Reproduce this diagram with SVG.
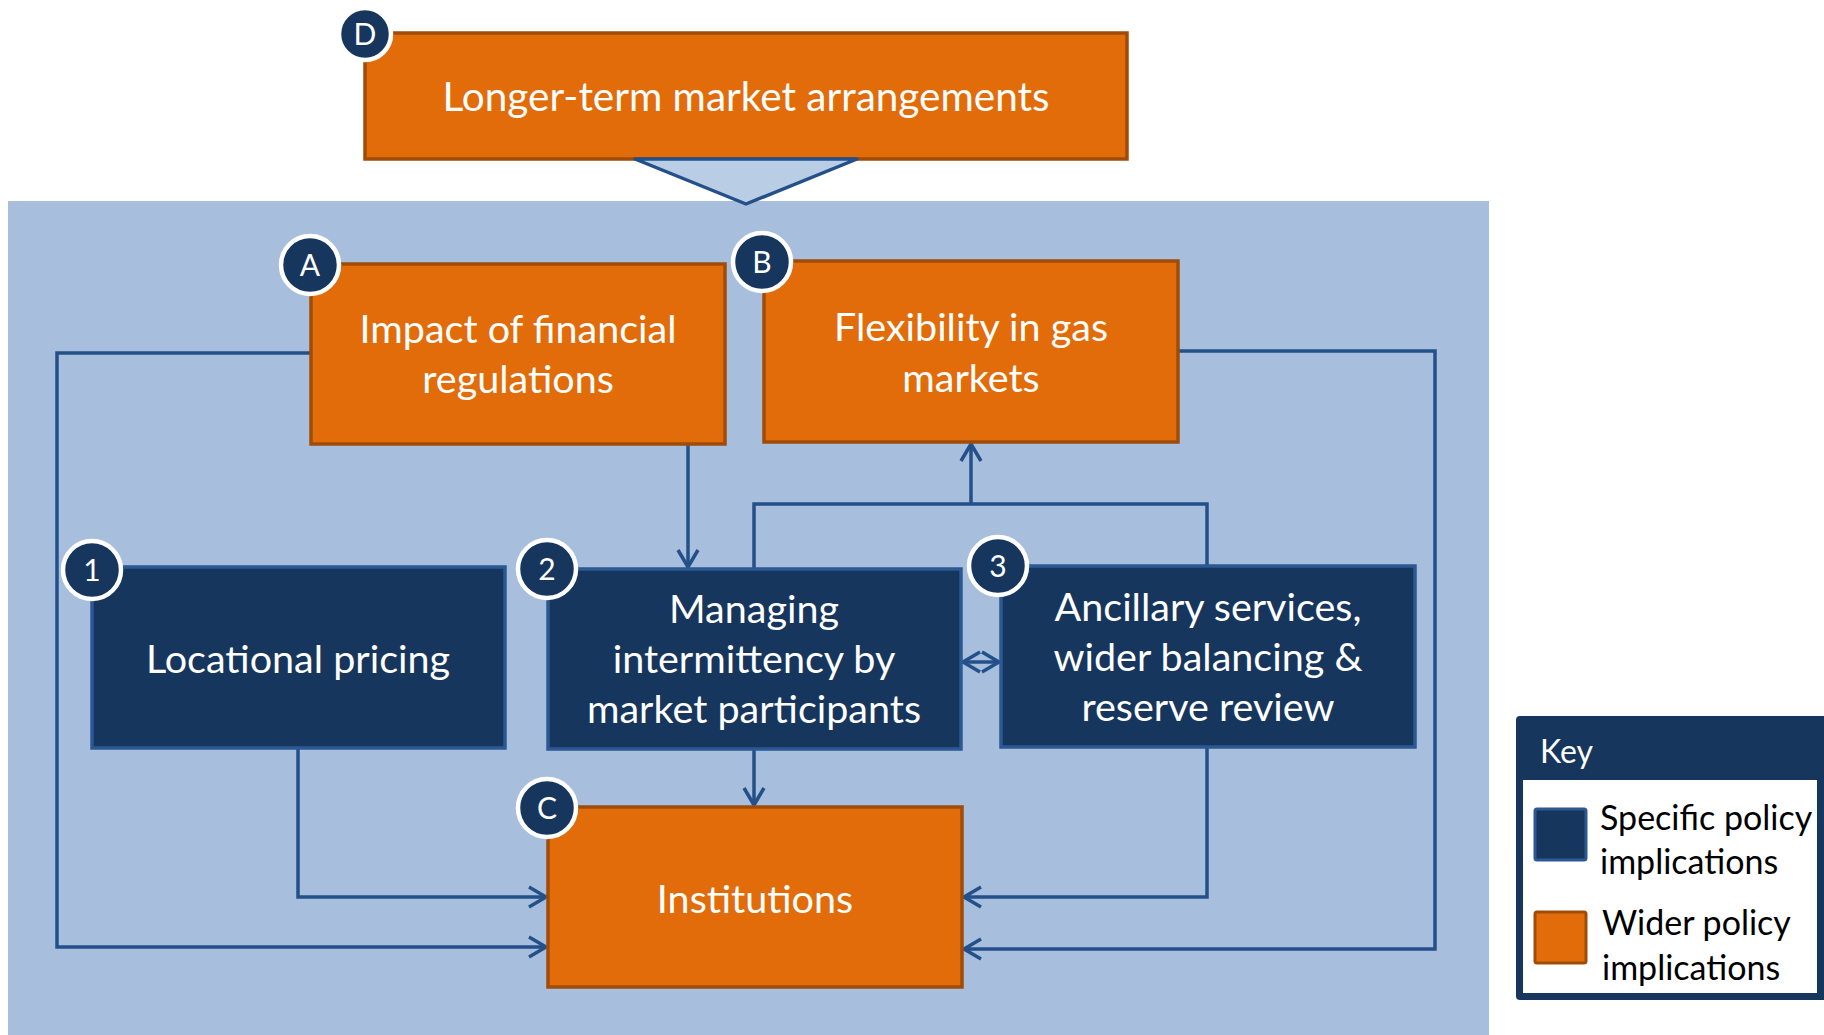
<svg xmlns="http://www.w3.org/2000/svg" width="1824" height="1035" viewBox="0 0 1824 1035">
  <style>
    .wide { fill: #E36C0A; stroke: #A04C08; stroke-width: 3.5; }
    .spec { fill: #17365D; stroke: #2C5893; stroke-width: 3.5; }
    .badge { fill: #17365D; stroke: #FFFFFF; stroke-width: 4.5; }
    .lbl { font-family: Lato, "Liberation Sans", sans-serif; fill: #FFFFFF; text-anchor: middle; font-size: 39.5px; }
    .badge-t { font-family: Lato, "Liberation Sans", sans-serif; fill: #FFFFFF; text-anchor: middle; font-size: 30px; }
    .key-t { font-family: Lato, "Liberation Sans", sans-serif; fill: #000000; font-size: 34px; }
    .wire { fill: none; stroke: #24508A; stroke-width: 3.5; }
  </style>
  <defs>
    <marker id="arr" markerUnits="userSpaceOnUse" markerWidth="26" markerHeight="26" viewBox="-22 -13 26 26" refX="0" refY="0" orient="auto-start-reverse">
      <path d="M-17,-10 L0,0 L-17,10" fill="none" stroke="#24508A" stroke-width="3.5"/>
    </marker>
  </defs>

  <rect width="1824" height="1035" fill="#FFFFFF"/>

  <!-- shared background panel -->
  <rect x="8" y="201" width="1481" height="834" fill="#A7BFDD"/>

  <!-- D: longer-term arrangements feeding the panel -->
  <g id="node-D">
    <rect class="wide" x="365" y="33" width="762" height="126"/>
    <text class="lbl" x="746" y="111" style="font-size:40.5px">Longer-term market arrangements</text>
    <polygon points="635,159 857,159 746,204" fill="#B9CDE5" stroke="#24508A" stroke-width="3.5" stroke-linejoin="round"/>
    <circle class="badge" cx="365" cy="34" r="26"/>
    <text class="badge-t" x="365" y="45">D</text>
  </g>

  <g id="connectors">
    <path class="wire" d="M311,353 H57 V947 H546" marker-end="url(#arr)"/>
    <path class="wire" d="M688,444 V567" marker-end="url(#arr)"/>
    <path class="wire" d="M298,748 V897 H546" marker-end="url(#arr)"/>
    <path class="wire" d="M754,749 V805" marker-end="url(#arr)"/>
    <path class="wire" d="M1207,747 V897 H964" marker-end="url(#arr)"/>
    <path class="wire" d="M1178,351 H1435 V949 H964" marker-end="url(#arr)"/>
    <path class="wire" d="M754,569 V504 H1207 V566"/>
    <path class="wire" d="M971,504 V444" marker-end="url(#arr)"/>
    <path class="wire" d="M963,662 H999" marker-start="url(#arr)" marker-end="url(#arr)"/>
  </g>

  <g id="node-A">
    <rect class="wide" x="311" y="264" width="414" height="180"/>
    <text class="lbl" x="518" y="343">Impact of financial</text>
    <text class="lbl" x="518" y="393">regulations</text>
    <circle class="badge" cx="310" cy="265" r="29"/>
    <text class="badge-t" x="310" y="276">A</text>
  </g>

  <g id="node-B">
    <rect class="wide" x="764" y="261" width="414" height="181"/>
    <text class="lbl" x="971" y="341">Flexibility in gas</text>
    <text class="lbl" x="971" y="392">markets</text>
    <circle class="badge" cx="762" cy="262" r="29"/>
    <text class="badge-t" x="762" y="273">B</text>
  </g>

  <g id="node-1">
    <rect class="spec" x="92" y="567" width="413" height="181"/>
    <text class="lbl" x="298" y="673">Locational pricing</text>
    <circle class="badge" cx="92" cy="570" r="29"/>
    <text class="badge-t" x="92" y="581">1</text>
  </g>

  <g id="node-2">
    <rect class="spec" x="548" y="569" width="413" height="180"/>
    <text class="lbl" x="754" y="623">Managing</text>
    <text class="lbl" x="754" y="673">intermittency by</text>
    <text class="lbl" x="754" y="723">market participants</text>
    <circle class="badge" cx="547" cy="569" r="29"/>
    <text class="badge-t" x="547" y="580">2</text>
  </g>

  <g id="node-3">
    <rect class="spec" x="1001" y="566" width="414" height="181"/>
    <text class="lbl" x="1208" y="621">Ancillary services,</text>
    <text class="lbl" x="1208" y="671">wider balancing &amp;</text>
    <text class="lbl" x="1208" y="721">reserve review</text>
    <circle class="badge" cx="998" cy="566" r="29"/>
    <text class="badge-t" x="998" y="577">3</text>
  </g>

  <g id="node-C">
    <rect class="wide" x="548" y="807" width="414" height="180"/>
    <text class="lbl" x="755" y="913">Institutions</text>
    <circle class="badge" cx="547" cy="808" r="29"/>
    <text class="badge-t" x="547" y="819">C</text>
  </g>

  <!-- legend -->
  <g id="key">
    <rect x="1516" y="716" width="320" height="284" rx="4" fill="#17365D"/>
    <rect x="1523" y="780" width="294" height="213" fill="#FFFFFF"/>
    <text x="1540" y="763" font-family="Lato, 'Liberation Sans', sans-serif" font-size="32" fill="#FFFFFF">Key</text>
    <rect x="1535" y="809" width="51" height="51" rx="2" fill="#17365D" stroke="#2C5893" stroke-width="3"/>
    <rect x="1535" y="912" width="51" height="51" rx="2" fill="#E36C0A" stroke="#A04C08" stroke-width="3"/>
    <text class="key-t" x="1600" y="830">Specific policy</text>
    <text class="key-t" x="1600" y="874">implications</text>
    <text class="key-t" x="1602" y="935">Wider policy</text>
    <text class="key-t" x="1602" y="980">implications</text>
  </g>
</svg>
